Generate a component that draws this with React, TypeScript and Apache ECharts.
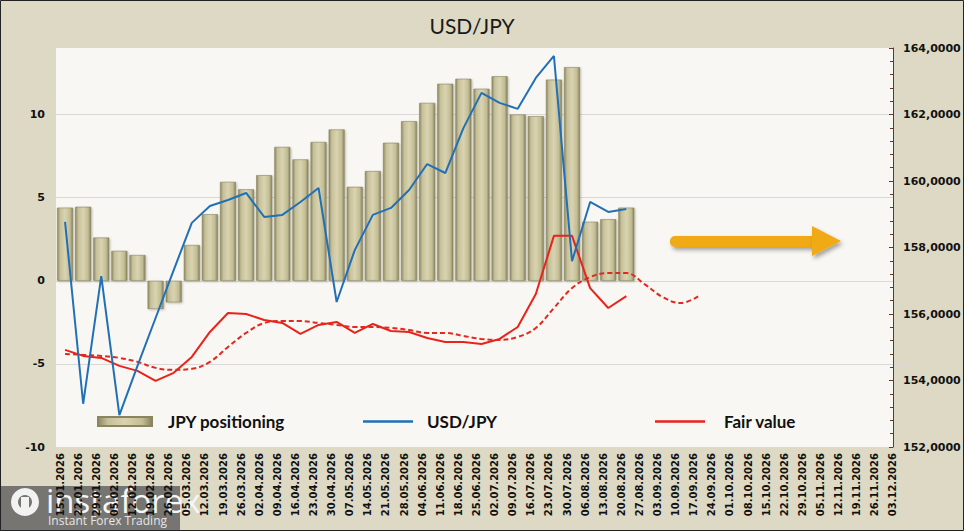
import React, { useEffect, useRef } from "react";
import * as echarts from "echarts";

const weeks = [
  "15.01.2026", "22.01.2026", "29.01.2026", "05.02.2026", "12.02.2026", "19.02.2026",
  "26.02.2026", "05.03.2026", "12.03.2026", "19.03.2026", "26.03.2026", "02.04.2026",
  "09.04.2026", "16.04.2026", "23.04.2026", "30.04.2026", "07.05.2026", "14.05.2026",
  "21.05.2026", "28.05.2026", "04.06.2026", "11.06.2026", "18.06.2026", "25.06.2026",
  "02.07.2026", "09.07.2026", "16.07.2026", "23.07.2026", "30.07.2026", "06.08.2026",
  "13.08.2026", "20.08.2026", "27.08.2026", "03.09.2026", "10.09.2026", "17.09.2026",
  "24.09.2026", "01.10.2026", "08.10.2026", "15.10.2026", "22.10.2026", "29.10.2026",
  "05.11.2026", "12.11.2026", "19.11.2026", "26.11.2026", "03.12.2026",
];

// net JPY positioning, left axis
const jpyPositioning = [
  4.4, 4.45, 2.6, 1.8, 1.55, -1.7, -1.3, 2.15, 4.0, 5.95, 5.5, 6.35, 8.05, 7.3, 8.35, 9.1,
  5.65, 6.6, 8.3, 9.6, 10.7, 11.85, 12.15, 11.55, 12.3, 10.0, 9.9, 12.1, 12.85, 3.55, 3.7, 4.4,
];

// right axis
const usdJpy = [
  158.77, 153.3, 157.14, 152.96, 154.44, 155.88, 157.32, 158.74, 159.25, 159.43, 159.64,
  158.92, 158.98, 159.37, 159.79, 156.36, 157.92, 158.98, 159.19, 159.73, 160.51, 160.24,
  161.59, 162.65, 162.35, 162.17, 163.1, 163.76, 157.59, 159.37, 159.07, 159.16,
];

const fairValue = [
  154.92, 154.74, 154.68, 154.44, 154.29, 153.99, 154.23, 154.71, 155.46, 156.03, 156.0,
  155.82, 155.73, 155.4, 155.67, 155.76, 155.43, 155.7, 155.49, 155.46, 155.28, 155.16,
  155.16, 155.1, 155.25, 155.61, 156.6, 158.35, 158.35, 156.78, 156.18, 156.54,
];

const fairValueTrend = [
  154.8, 154.77, 154.74, 154.68, 154.56, 154.38, 154.32, 154.35, 154.56, 155.01, 155.43,
  155.73, 155.79, 155.79, 155.73, 155.67, 155.61, 155.61, 155.58, 155.52, 155.43, 155.43,
  155.34, 155.25, 155.22, 155.31, 155.58, 156.18, 156.78, 157.11, 157.23, 157.23, 156.9,
  156.51, 156.33, 156.54,
];

const leftTicks = { min: -10, max: 14, step: 5 };
const rightTicks = { min: 152, max: 164, step: 2 };

const barFill = new echarts.graphic.LinearGradient(0, 0, 1, 0, [
  { offset: 0, color: "#8d885f" },
  { offset: 0.18, color: "#c6c09a" },
  { offset: 0.5, color: "#d9d3b0" },
  { offset: 0.82, color: "#c3bd95" },
  { offset: 1, color: "#87825b" },
]);

const axisFont = { fontFamily: "DejaVu Sans", fontWeight: "bold" as const, color: "#111" };
const legendFont = { fontFamily: "Lato", fontWeight: "bold" as const, fontSize: 17, color: "#111" };

const App: React.FC = () => {
  const chartRef = useRef<HTMLDivElement>(null);

  useEffect(() => {
    if (!chartRef.current) return;
    const chart = echarts.init(chartRef.current, undefined, { renderer: "svg" });

    const option = {
      animation: false,
      backgroundColor: "#ddd9c4",
      title: {
        text: "USD/JPY",
        left: 467,
        top: 10,
        textAlign: "center",
        textStyle: { fontFamily: "Lato", fontWeight: "normal", fontSize: 21, color: "#1a1a1a" },
      },
      legend: [
        {
          data: [{ name: "JPY positioning", icon: "rect" }],
          left: 97, top: 413, padding: 0,
          itemWidth: 54, itemHeight: 9,
          textStyle: { ...legendFont, padding: [0, 0, 0, 11] },
        },
        {
          data: [{ name: "USD/JPY", icon: "rect" }],
          left: 363, top: 413, padding: 0,
          itemWidth: 50, itemHeight: 2.5,
          textStyle: { ...legendFont, padding: [0, 0, 0, 9] },
        },
        {
          data: [{ name: "Fair value", icon: "rect" }],
          left: 655, top: 413, padding: 0,
          itemWidth: 50, itemHeight: 2.5,
          textStyle: { ...legendFont, padding: [0, 0, 0, 14] },
        },
      ],
      grid: { left: 56, right: 57, top: 48, bottom: 84 },
      xAxis: {
        type: "category",
        data: weeks,
        boundaryGap: true,
        axisLine: { show: false },
        axisTick: { show: false },
        axisLabel: {
          ...axisFont,
          fontSize: 10,
          rotate: 90,
          interval: 0,
          margin: 6,
          verticalAlign: "bottom",
        },
      },
      yAxis: [
        {
          type: "value",
          min: leftTicks.min,
          max: leftTicks.max,
          interval: leftTicks.step,
          axisLine: { show: false },
          axisTick: { show: false },
          axisLabel: {
            ...axisFont,
            fontSize: 11,
            margin: 11,
            formatter: (v: number) => (v === leftTicks.max ? "" : String(v)),
          },
          splitLine: { show: true, showMaxLine: false, lineStyle: { color: "#d8d8d8", width: 1 } },
        },
        {
          type: "value",
          position: "right",
          offset: -14,
          min: rightTicks.min,
          max: rightTicks.max,
          interval: rightTicks.step,
          axisLine: { show: true, lineStyle: { color: "#5b3a2a", width: 1 } },
          axisTick: { show: true, inside: true, length: 4, lineStyle: { color: "#5b3a2a" } },
          minorTick: { show: true, splitNumber: 5, length: 3, lineStyle: { color: "#5b3a2a" } },
          axisLabel: {
            ...axisFont,
            fontSize: 11,
            margin: 10,
            formatter: (v: number) => v.toFixed(4).replace(".", ","),
          },
          splitLine: { show: false },
        },
      ],
      series: [
        {
          name: "JPY positioning",
          type: "bar",
          yAxisIndex: 0,
          data: jpyPositioning,
          barWidth: 16,
          itemStyle: {
            color: barFill,
            borderColor: "#8a855e",
            borderWidth: 0.6,
            shadowColor: "rgba(0,0,0,0.25)",
            shadowBlur: 2,
            shadowOffsetX: 1,
            shadowOffsetY: 1,
          },
        },
        {
          name: "USD/JPY",
          type: "line",
          yAxisIndex: 1,
          data: usdJpy,
          showSymbol: false,
          color: "#2170b6",
          lineStyle: { color: "#2170b6", width: 2 },
          z: 4,
        },
        {
          name: "Fair value",
          type: "line",
          yAxisIndex: 1,
          data: fairValue,
          showSymbol: false,
          color: "#e8231b",
          lineStyle: { color: "#e8231b", width: 2 },
          z: 3,
        },
        {
          name: "Fair value trend",
          type: "line",
          yAxisIndex: 1,
          data: fairValueTrend,
          showSymbol: false,
          smooth: 0.4,
          color: "#e02a1f",
          lineStyle: { color: "#e02a1f", width: 2, type: [5, 3] },
          z: 3,
        },
      ],
      graphic: [
        {
          type: "rect",
          z: -1,
          shape: { x: 56, y: 48, width: 837, height: 399 },
          style: { fill: "#f8f7f3" },
          silent: true,
        },
        {
          type: "rect",
          z: 10,
          shape: { x: 0.5, y: 0.5, width: 963, height: 530 },
          style: { fill: "none", stroke: "#222", lineWidth: 1 },
          silent: true,
        },
        {
          type: "group",
          z: 10,
          children: [
            {
              type: "rect",
              shape: { x: 670, y: 236, width: 146, height: 11, r: 5 },
              style: {
                fill: "#efaa13",
                shadowColor: "rgba(0,0,0,0.35)",
                shadowBlur: 4,
                shadowOffsetX: 2,
                shadowOffsetY: 3,
              },
            },
            {
              type: "polygon",
              shape: { points: [[812, 226], [841, 241], [812, 256]] },
              style: {
                fill: "#efaa13",
                shadowColor: "rgba(0,0,0,0.35)",
                shadowBlur: 4,
                shadowOffsetX: 2,
                shadowOffsetY: 3,
              },
            },
          ],
        },
        {
          type: "group",
          z: 20,
          children: [
            {
              type: "rect",
              shape: { x: 0, y: 486, width: 180, height: 45 },
              style: { fill: "rgba(95,95,95,0.82)" },
            },
            {
              type: "ring",
              shape: { cx: 25, cy: 502, r: 14, r0: 7 },
              style: { fill: "#f2f2f2" },
            },
            {
              type: "rect",
              shape: { x: 21, y: 497, width: 8, height: 18 },
              style: { fill: "#f2f2f2" },
            },
            {
              type: "text",
              x: 46,
              y: 484,
              style: {
                text: "instaforex",
                fontFamily: "Open Sans",
                fontWeight: "normal",
                fontSize: 33,
                fill: "#f6f6f6",
              },
            },
            {
              type: "text",
              x: 48,
              y: 514,
              style: {
                text: "Instant Forex Trading",
                fontFamily: "Open Sans",
                fontSize: 12,
                fill: "#e6e6e6",
              },
            },
          ],
        },
      ],
    };

    chart.setOption(option);
    return () => chart.dispose();
  }, []);

  return (
    <div
      ref={chartRef}
      style={{ position: "absolute", left: 0, top: 0, width: "964px", height: "531px" }}
    ></div>
  );
};

export default App;
